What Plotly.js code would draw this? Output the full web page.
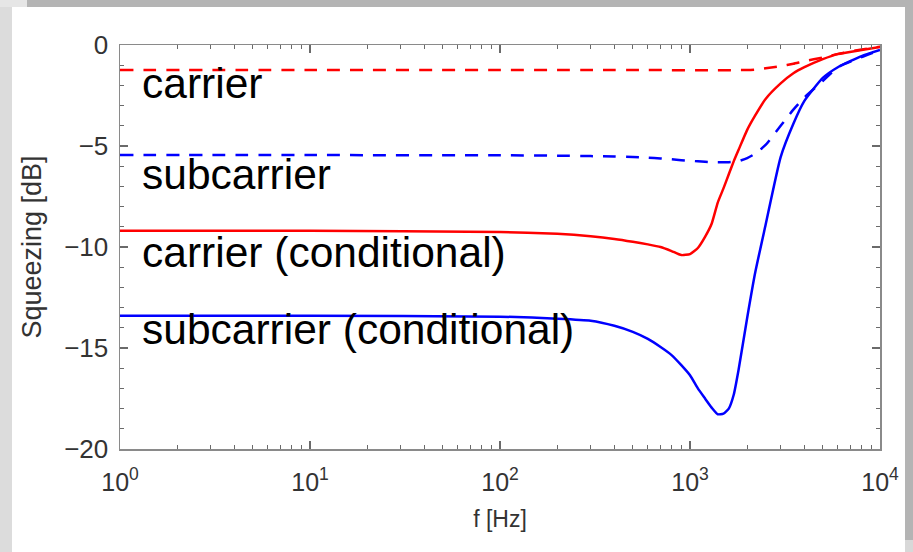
<!DOCTYPE html>
<html>
<head>
<meta charset="utf-8">
<script src="https://cdn.plot.ly/plotly-3.0.1.min.js"></script>
<style>
  html, body { margin: 0; padding: 0; width: 913px; height: 552px; overflow: hidden; background: #b4b4b4; }
  #frameL { position: absolute; left: 0; top: 0; width: 12px; height: 552px; background: #dcdcdc; }
  #frameTL { position: absolute; left: 0; top: 0; width: 27px; height: 7px; background: #e6e6e6; }
  #frameRB { position: absolute; left: 905px; top: 540px; width: 8px; height: 12px; background: #d8d8d8; }
  #panel { position: absolute; left: 12px; top: 7px; width: 893px; height: 545px; background: #ffffff; }
  #chart { position: absolute; left: 0; top: 0; width: 913px; height: 552px; }
</style>
</head>
<body>
<div id="frameL"></div>
<div id="frameTL"></div>
<div id="frameRB"></div>
<div id="panel"></div>
<div id="chart"></div>
<script>
// Frequencies (Hz)
const freq = [1, 10, 100, 200, 300, 400, 500, 600, 700, 800, 900, 1000, 1100, 1200, 1300, 1400, 1500, 1600, 1700, 1800, 2000, 2200, 2500, 3000, 3500, 4000, 5000, 6000, 8000, 10000];
// Squeezing [dB]
const carrier = [-1.24, -1.24, -1.24, -1.24, -1.24, -1.24, -1.24, -1.24, -1.24, -1.25, -1.25, -1.25, -1.25, -1.25, -1.25, -1.25, -1.25, -1.25, -1.25, -1.24, -1.24, -1.22, -1.15, -1.05, -0.93, -0.8, -0.62, -0.44, -0.22, -0.08];
const subcarrier = [-5.45, -5.45, -5.46, -5.48, -5.5, -5.52, -5.55, -5.58, -5.62, -5.66, -5.7, -5.73, -5.76, -5.78, -5.8, -5.8, -5.8, -5.8, -5.78, -5.75, -5.6, -5.38, -4.95, -4.0, -3.2, -2.6, -1.78, -1.1, -0.6, -0.25];
const carrierCond = [-9.2, -9.2, -9.26, -9.35, -9.47, -9.6, -9.74, -9.87, -10.0, -10.2, -10.4, -10.35, -10.05, -9.5, -8.85, -7.8, -7.1, -6.4, -5.75, -5.2, -4.2, -3.5, -2.67, -1.9, -1.4, -1.1, -0.7, -0.45, -0.25, -0.1];
const subcarrierCond = [-13.4, -13.4, -13.45, -13.55, -13.65, -13.9, -14.2, -14.55, -14.95, -15.35, -15.85, -16.35, -17.0, -17.5, -17.95, -18.28, -18.25, -18.0, -17.3, -16.1, -13.5, -11.3, -8.9, -5.55, -3.9, -2.77, -1.63, -1.1, -0.55, -0.25];

const seriesNames = ['carrier', 'subcarrier', 'carrier (conditional)', 'subcarrier (conditional)'];
const xTickVals = [1, 10, 100, 1000, 10000];
const xTickText = ['10<sup>0</sup>', '10<sup>1</sup>', '10<sup>2</sup>', '10<sup>3</sup>', '10<sup>4</sup>'];

const RED = '#ff0000', BLUE = '#0000ff';
const dash = '13px,10px';
const FONT = 'Liberation Sans, Arial, sans-serif';
const AXC = '#8a8a8a';
const TKC = '#6a6a6a';
const NONE = 'rgba(0,0,0,0)';

const lineStyle = (c, d) => ({ color: c, width: 2.5, dash: d || 'solid', shape: 'spline', smoothing: 0.5 });
const traces = [
  { x: freq, y: carrier, name: seriesNames[0], mode: 'lines', line: lineStyle(RED, dash) },
  { x: freq, y: subcarrier, name: seriesNames[1], mode: 'lines', line: lineStyle(BLUE, dash) },
  { x: freq, y: carrierCond, name: seriesNames[2], mode: 'lines', line: lineStyle(RED) },
  { x: freq, y: subcarrierCond, name: seriesNames[3], mode: 'lines', line: lineStyle(BLUE) }
];

const labelY = [-1.93, -6.39, -10.25, -14.1];
const annotations = seriesNames.map((t, i) => ({
  text: t, xref: 'paper', yref: 'y', x: 0.026, y: labelY[i],
  xanchor: 'left', yanchor: 'middle', showarrow: false,
  font: { family: FONT, size: 42.5, color: '#000000' }
}));

const layout = {
  width: 913, height: 552,
  margin: { l: 120, r: 33, t: 45, b: 103 },
  paper_bgcolor: NONE, plot_bgcolor: '#ffffff',
  showlegend: false,
  xaxis: {
    type: 'log', range: [0, 4],
    tickmode: 'array', tickvals: xTickVals, ticktext: xTickText,
    ticks: 'inside', ticklen: 8, tickwidth: 2, tickcolor: TKC,
    showline: true, linecolor: AXC, linewidth: 1.5, mirror: 'ticks',
    gridcolor: NONE,
    minor: { ticks: 'inside', ticklen: 4, tickwidth: 1.2, tickcolor: TKC, dtick: 'D1', gridcolor: NONE },
    ticklabelstandoff: 10,
    tickfont: { family: FONT, size: 25, color: '#333333' },
    title: { text: 'f [Hz]', font: { family: FONT, size: 23, color: '#333333' }, standoff: 16 }
  },
  yaxis: {
    range: [-20, 0], tick0: 0, dtick: 5,
    ticks: 'inside', ticklen: 8, tickwidth: 2, tickcolor: TKC,
    showline: true, linecolor: AXC, linewidth: 1.5, mirror: 'ticks',
    gridcolor: NONE, zerolinecolor: NONE,
    minor: { ticks: 'inside', ticklen: 4, tickwidth: 1.2, tickcolor: TKC, dtick: 1, gridcolor: NONE },
    ticklabelstandoff: 5,
    tickfont: { family: FONT, size: 26, color: '#333333' },
    title: { text: 'Squeezing [dB]', font: { family: FONT, size: 27, color: '#333333' }, standoff: 14 }
  },
  annotations: annotations
};

Plotly.newPlot('chart', traces, layout, { displayModeBar: false, staticPlot: true });
</script>
</body>
</html>
